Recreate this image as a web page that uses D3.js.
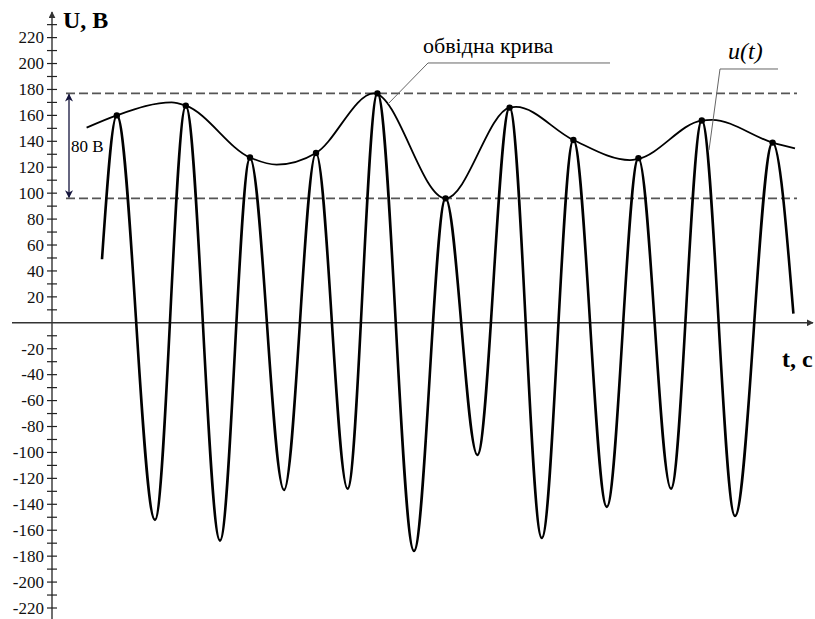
<!DOCTYPE html>
<html>
<head>
<meta charset="utf-8">
<script src="https://cdn.jsdelivr.net/npm/d3@7"></script>
<style>
  html, body { margin: 0; padding: 0; background: #fff; }
  body { width: 815px; height: 619px; overflow: hidden; }
</style>
</head>
<body>
<script>
const width = 815;
const height = 619;
const FONT = "'Liberation Serif', 'Times New Roman', Times, serif";

// u(t): turning points of the oscillation (t in arbitrary units, U in volts)
const uTime = [2.5, 3.24, 5.15, 6.69, 8.4, 9.9, 11.6, 13.2, 14.78, 16.27, 18.1, 19.68,
  21.27, 22.88, 24.49, 26.07, 27.74, 29.32, 30.95, 32.49, 34.15, 36.03, 37.07];
const uVolt = [49, 160, -152, 167, -168, 127, -129, 131, -128, 177, -176, 96,
  -102, 166, -166, 141, -142, 127, -128, 156, -149, 139, 7];

// envelope curve
const envTime = [1.73, 3.24, 5.98, 6.69, 9.9, 11.23, 13.2, 16.1, 19.68, 22.88, 23.2,
  26.07, 28.9, 29.32, 32.49, 33.0, 36.03, 37.15];
const envVolt = [150.5, 160, 170, 167.5, 127.5, 122, 131, 177, 96, 166, 166.5,
  141, 125.5, 126.5, 156, 156.5, 139, 134.5];

// maxima marked with dots
const peakTime = [3.24, 6.69, 9.9, 13.2, 16.27, 19.68, 22.88, 26.07, 29.32, 32.49, 36.03];
const peakVolt = [160, 167.5, 127.5, 131, 177, 96, 166, 141, 127, 156, 139];

const levels = [177, 96];
const yTickLabels = [220, 200, 180, 160, 140, 120, 100, 80, 60, 40, 20,
  -20, -40, -60, -80, -100, -120, -140, -160, -180, -200, -220];
const yMinorTicks = d3.range(-220, 231, 10).filter(v => v !== 0);

const x = d3.scaleLinear().domain([0, 38]).range([52, 812]);
const y = d3.scaleLinear().domain([-220, 220]).range([608, 37.6]);

const svg = d3.create("svg")
  .attr("width", width)
  .attr("height", height)
  .attr("viewBox", [0, 0, width, height])
  .style("font-family", FONT);

const defs = svg.append("defs");
defs.append("marker")
  .attr("id", "axisArrow")
  .attr("viewBox", "0 0 10 10")
  .attr("refX", 9).attr("refY", 5)
  .attr("markerWidth", 7).attr("markerHeight", 7)
  .attr("markerUnits", "userSpaceOnUse")
  .attr("orient", "auto")
  .append("path").attr("d", "M0,0L10,5L0,10Z").attr("fill", "#333");
defs.append("marker")
  .attr("id", "dimArrow")
  .attr("viewBox", "0 0 10 10")
  .attr("refX", 9).attr("refY", 5)
  .attr("markerWidth", 8).attr("markerHeight", 8)
  .attr("markerUnits", "userSpaceOnUse")
  .attr("orient", "auto-start-reverse")
  .append("path").attr("d", "M0,0L10,5L0,10L3,5Z").attr("fill", "#14143c");

const x0 = x(0);
const y0 = y(0);

// axes
svg.append("line")
  .attr("x1", 12).attr("y1", y0).attr("x2", 813).attr("y2", y0)
  .attr("stroke", "#333").attr("stroke-width", 1.4)
  .attr("marker-end", "url(#axisArrow)");
svg.append("line")
  .attr("x1", x0).attr("y1", 619).attr("x2", x0).attr("y2", 12)
  .attr("stroke", "#333").attr("stroke-width", 1.4)
  .attr("marker-end", "url(#axisArrow)");

svg.append("g")
  .selectAll("line")
  .data(yMinorTicks)
  .join("line")
  .attr("x1", x0 - 5).attr("x2", x0 + 5)
  .attr("y1", d => y(d)).attr("y2", d => y(d))
  .attr("stroke", "#222").attr("stroke-width", 1.2);

svg.append("g")
  .selectAll("text")
  .data(yTickLabels)
  .join("text")
  .attr("x", x0 - 8)
  .attr("y", d => y(d))
  .attr("dy", "0.34em")
  .attr("text-anchor", "end")
  .attr("font-family", FONT)
  .attr("font-size", 17)
  .attr("fill", "#111")
  .text(d => String(d));

svg.append("text")
  .attr("x", x0 + 11).attr("y", 28)
  .attr("font-family", FONT)
  .attr("font-size", 24).attr("font-weight", "bold")
  .text("U, B");
svg.append("text")
  .attr("x", 782).attr("y", 367)
  .attr("font-family", FONT)
  .attr("font-size", 24).attr("font-weight", "bold")
  .text("t, c");

// dashed levels
svg.append("g")
  .selectAll("line")
  .data(levels)
  .join("line")
  .attr("x1", x(0.7)).attr("x2", x(37.25))
  .attr("y1", d => y(d)).attr("y2", d => y(d))
  .attr("stroke", "#555").attr("stroke-width", 1.6)
  .attr("stroke-dasharray", "9,4");

// 80 B dimension
svg.append("line")
  .attr("x1", x(0.85)).attr("x2", x(0.85))
  .attr("y1", y(levels[0]) + 1).attr("y2", y(levels[1]) - 1)
  .attr("stroke", "#14143c").attr("stroke-width", 1.3)
  .attr("marker-start", "url(#dimArrow)")
  .attr("marker-end", "url(#dimArrow)");
svg.append("text")
  .attr("x", x(0.85) + 2)
  .attr("y", y((levels[0] + levels[1]) / 2) + 6)
  .attr("font-family", FONT)
  .attr("font-size", 17)
  .text("80 B");

// envelope
const envData = envTime.map((t, i) => [t, envVolt[i]]);
svg.append("path")
  .datum(envData)
  .attr("fill", "none")
  .attr("stroke", "#000")
  .attr("stroke-width", 1.8)
  .attr("d", d3.line().x(d => x(d[0])).y(d => y(d[1])).curve(d3.curveMonotoneX));

// u(t)
const uData = uTime.map((t, i) => [t, uVolt[i]]);
svg.append("path")
  .datum(uData)
  .attr("fill", "none")
  .attr("stroke", "#000")
  .attr("stroke-width", 2.6)
  .attr("stroke-linejoin", "round")
  .attr("d", d3.line().x(d => x(d[0])).y(d => y(d[1])).curve(d3.curveMonotoneX));

svg.append("g")
  .selectAll("circle")
  .data(peakTime.map((t, i) => [t, peakVolt[i]]))
  .join("circle")
  .attr("cx", d => x(d[0]))
  .attr("cy", d => y(d[1]))
  .attr("r", 3.2)
  .attr("fill", "#000");

// callouts
const callouts = [
  { anchor: [16.8, 168.8], dx: 40, dy: -41, len: 182, label: "обвідна крива", italic: false, tx: -5 },
  { anchor: [32.85, 133.3], dx: 11, dy: -81, len: 58, label: "u(t)", italic: true, tx: 8 },
];
callouts.forEach(c => {
  const ax = x(c.anchor[0]), ay = y(c.anchor[1]);
  const bx = ax + c.dx, by = ay + c.dy;
  svg.append("path")
    .attr("d", `M${ax},${ay}L${bx},${by}L${bx + c.len},${by}`)
    .attr("fill", "none")
    .attr("stroke", "#666")
    .attr("stroke-width", 1);
  svg.append("text")
    .attr("x", bx + c.tx)
    .attr("y", by - 10)
    .attr("font-family", FONT)
    .attr("font-size", c.italic ? 24 : 22)
    .attr("font-style", c.italic ? "italic" : "normal")
    .text(c.label);
});

document.body.appendChild(svg.node());
</script>
</body>
</html>
